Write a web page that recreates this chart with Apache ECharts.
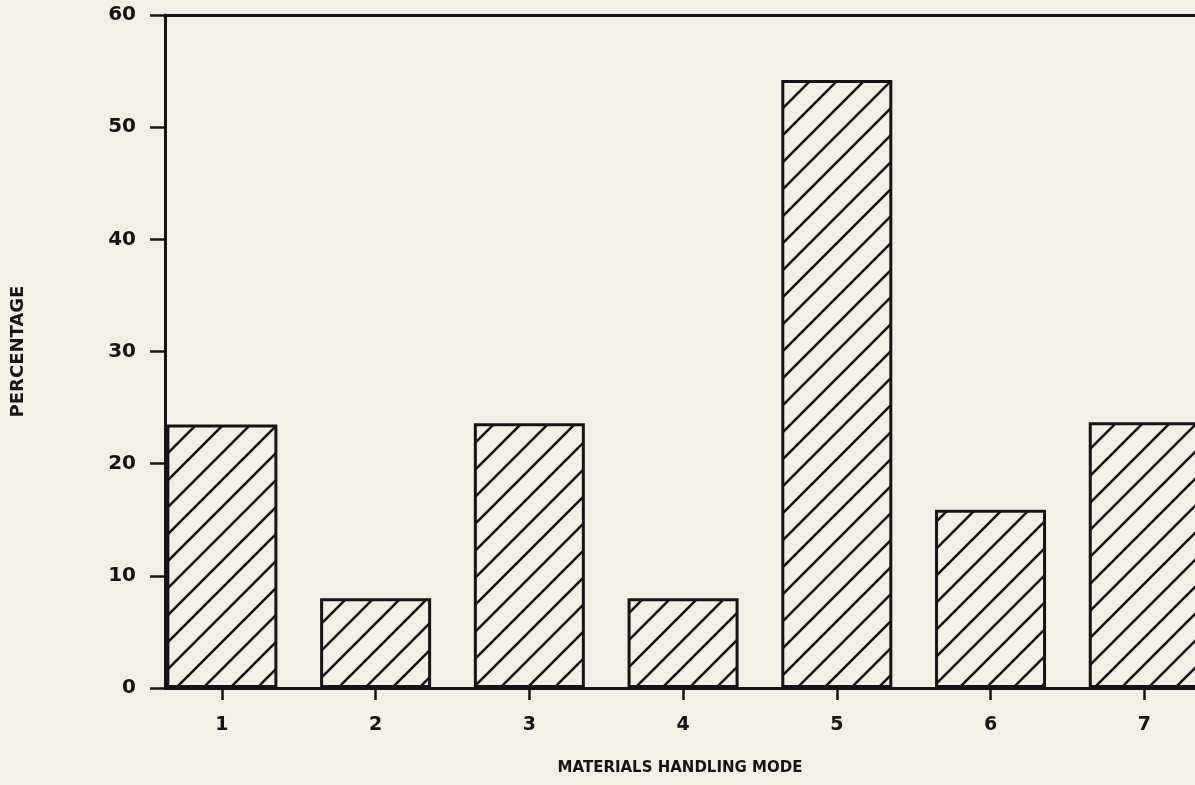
<!DOCTYPE html>
<html><head><meta charset="utf-8">
<script src="https://cdn.jsdelivr.net/npm/echarts@6/dist/echarts.min.js"></script>
<style>html,body{margin:0;padding:0;background:#f3efe3;}#c{width:1195px;height:785px;}</style>
</head><body><div id="c"></div>
<script>
var categories = [1, 2, 3, 4, 5, 6, 7];
var percentages = [23.5, 8.0, 23.6, 8.0, 54.2, 15.9, 23.7];
var yTicks = [0, 10, 20, 30, 40, 50, 60];

var BG = '#f3efe3', INK = '#141414';
function hatch() {
  var s = 27, c = document.createElement('canvas');
  c.width = s; c.height = s;
  var g = c.getContext('2d');
  g.fillStyle = BG; g.fillRect(0, 0, s, s);
  g.strokeStyle = INK; g.lineWidth = 2.6; g.lineCap = 'square';
  g.beginPath();
  g.moveTo(-2, s + 2); g.lineTo(s + 2, -2);
  g.moveTo(-2, 2); g.lineTo(2, -2);
  g.moveTo(s - 2, s + 2); g.lineTo(s + 2, s - 2);
  g.stroke();
  return c;
}
var chart = echarts.init(document.getElementById('c'), null, {renderer: 'canvas'});
var font = 'DejaVu Sans';
chart.setOption({
  backgroundColor: BG,
  animation: false,
  grid: {left: 165, top: 15, right: 0, bottom: 97},
  xAxis: [{
    type: 'value', min: 0.63, max: 7.33,
    name: 'MATERIALS HANDLING MODE', nameLocation: 'middle', nameGap: 73,
    nameTextStyle: {fontFamily: font, fontWeight: 'bold', fontSize: 15, color: INK},
    splitLine: {show: false},
    axisLine: {show: true, lineStyle: {color: INK, width: 3}},
    axisTick: {show: true, customValues: categories, length: 12, lineStyle: {color: INK, width: 2.5}},
    axisLabel: {customValues: categories, margin: 28, fontFamily: font, fontWeight: 'bold', fontSize: 19, color: INK}
  }, {
    type: 'value', min: 0.63, max: 7.33, position: 'top',
    splitLine: {show: false}, axisTick: {show: false}, axisLabel: {show: false},
    axisLine: {show: true, lineStyle: {color: INK, width: 3}}
  }],
  yAxis: {
    type: 'value', min: 0, max: 60, interval: 10,
    name: 'PERCENTAGE', nameLocation: 'middle', nameGap: 138, nameRotate: 90,
    nameTextStyle: {fontFamily: font, fontWeight: 'bold', fontSize: 18, color: INK},
    splitLine: {show: false},
    axisLine: {show: true, lineStyle: {color: INK, width: 3}},
    axisTick: {show: true, length: 15, lineStyle: {color: INK, width: 2.5}},
    axisLabel: {margin: 29, fontFamily: font, fontWeight: 'bold', fontSize: 20, color: INK,
      formatter: function (v) { return yTicks.indexOf(v) >= 0 ? String(v) : ''; }}
  },
  series: [{
    type: 'bar', barWidth: 111,
    data: categories.map(function (c, i) { return [c, percentages[i]]; }),
    itemStyle: {color: {image: hatch(), repeat: 'repeat'}, borderColor: INK, borderWidth: 3}
  }]
});
</script></body></html>
